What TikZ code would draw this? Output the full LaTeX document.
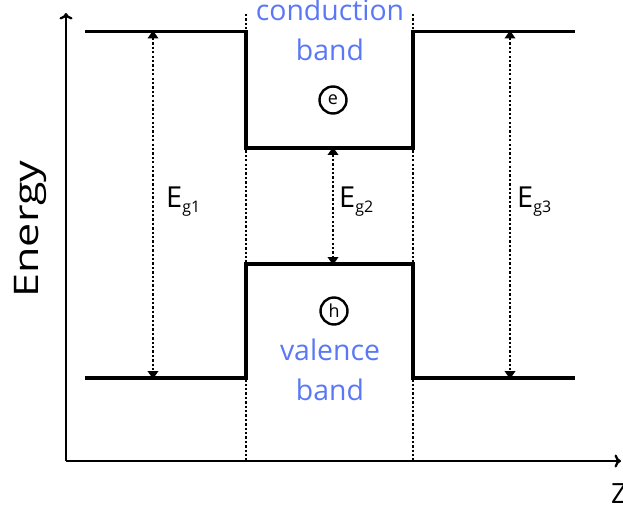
\documentclass[tikz,border=0pt]{standalone}
\usepackage{fontspec}
\setmainfont{Open Sans}
\usetikzlibrary{arrows.meta}
\definecolor{bandblue}{RGB}{90,120,245}
\begin{document}
\begin{tikzpicture}[x=1bp,y=-1bp,
  axis/.style={line width=2.3bp,-{To[length=6.5bp,width=13bp]}},
  bandline/.style={line width=3.8bp, line join=miter},
  guide/.style={line width=2.8bp, dash pattern=on 2.3bp off 2.1bp},
  gap/.style={line width=2.8bp, dash pattern=on 2.3bp off 2.1bp,
    {Triangle[length=8bp,width=10.5bp]}-{Triangle[length=8bp,width=10.5bp]}, shorten <=-1bp, shorten >=-1bp},
  bandtxt/.style={text=bandblue, font=\fontsize{28.5}{28.5}\selectfont, inner sep=0, anchor=base},
  carrier/.style={circle, draw, line width=2.4bp, minimum size=27bp, inner sep=0, font=\fontsize{18}{18}\selectfont},
  eglabel/.style={anchor=base west, inner sep=0, font=\fontsize{29}{29}\selectfont}
]
\useasboundingbox (0,0) rectangle (623,511);
% axes
\coordinate (o) at (66,461);
\coordinate (ytip) at (66,13);
\coordinate (xtip) at (621,461);
\draw[axis] (o) -- (ytip);
\draw[axis] (o) -- (xtip);
% guides
\coordinate (g1t) at (246,14);
\coordinate (g1b) at (246,461);
\coordinate (g2t) at (413,14);
\coordinate (g2b) at (413,461);
\draw[guide] (g1t) -- (g1b);
\draw[guide] (g2t) -- (g2b);
% bands
\draw[bandline] (85,31.5) -- (246,31.5) -- (246,148) -- (413,148) -- (413,31.5) -- (575,31.5);
\draw[bandline] (85,378) -- (246,378) -- (246,264) -- (413,264) -- (413,378) -- (575,378);
% gap arrows
\coordinate (c1) at (153,31.5);
\coordinate (v1) at (153,378);
\coordinate (c2) at (333,148);
\coordinate (v2) at (333,264);
\coordinate (c3) at (510,31.5);
\coordinate (v3) at (510,378);
\draw[gap] (c1) -- (v1);
\draw[gap] (c2) -- (v2);
\draw[gap] (c3) -- (v3);
\node[eglabel] (eg1) at (166,208) {E{\fontsize{16}{16}\selectfont\raisebox{-5bp}{g1}}};
\node[eglabel] (eg2) at (339,208) {E{\fontsize{16}{16}\selectfont\raisebox{-5bp}{g2}}};
\node[eglabel] (eg3) at (517,208) {E{\fontsize{16}{16}\selectfont\raisebox{-5bp}{g3}}};
% carriers
\node[carrier] (e) at (333,100) {e};
\node[carrier] (h) at (334,311) {h};
% band texts
\node[bandtxt] (cb1) at (330,21) {conduction};
\node[bandtxt] (cb2) at (330,61) {band};
\node[bandtxt] (vb1) at (330,360) {valence};
\node[bandtxt] (vb2) at (330,400) {band};
% axis labels
\node[rotate=90, anchor=base, inner sep=0, font=\fontsize{34}{34}\selectfont] (en) at (38,229) {\scalebox{1.27}[1]{Energy}};
\node[anchor=base west, inner sep=0, font=\fontsize{28}{28}\selectfont] (z) at (611,503) {Z};
\end{tikzpicture}
\end{document}
